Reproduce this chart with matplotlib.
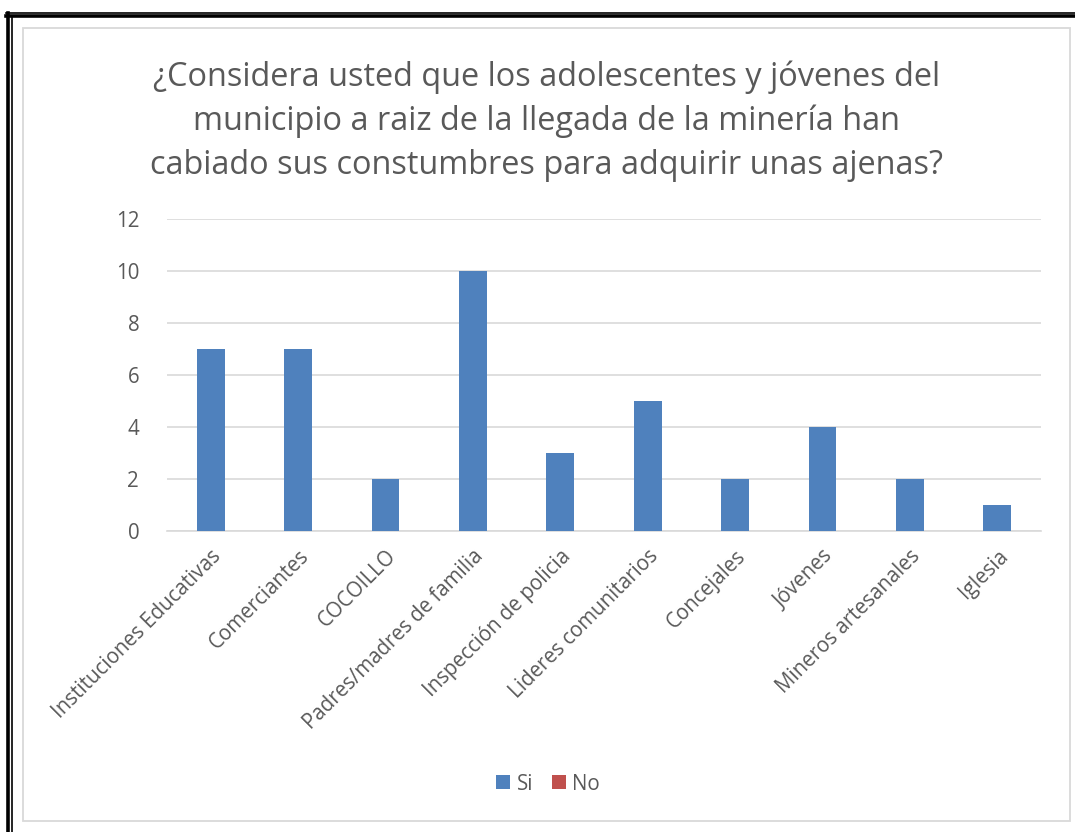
import matplotlib
matplotlib.use("Agg")
import matplotlib.pyplot as plt
from matplotlib.patches import Rectangle, Patch
from matplotlib.lines import Line2D

categories = ["Instituciones Educativas", "Comerciantes", "COCOILLO",
              "Padres/madres de familia", "Inspección de policia",
              "Lideres comunitarios", "Concejales", "Jóvenes",
              "Mineros artesanales", "Iglesia"]
si_values = [7, 7, 2, 10, 3, 5, 2, 4, 2, 1]
no_values = [0, 0, 0, 0, 0, 0, 0, 0, 0, 0]
yticks = [0, 2, 4, 6, 8, 10, 12]
title = ("¿Considera usted que los adolescentes y jóvenes del\n"
         "municipio a raiz de la llegada de la minería han\n"
         "cabiado sus constumbres para adquirir unas ajenas?")

W, H = 1075, 832
plt.rcParams['font.family'] = ['Open Sans', 'DejaVu Sans']
fig = plt.figure(figsize=(W / 100, H / 100), dpi=100)
fig.patch.set_facecolor("white")

def fx(x):
    return x / W

def fy(y):
    return 1 - y / H

# outer double border
fig.add_artist(Line2D([fx(6), 1], [fy(12.5), fy(12.5)], color="black", lw=1.2, transform=fig.transFigure))
fig.add_artist(Line2D([fx(6), 1], [fy(15.8), fy(15.8)], color="black", lw=2.6, transform=fig.transFigure))
fig.add_artist(Line2D([fx(7.7), fx(7.7)], [0, fy(12.5)], color="black", lw=2.6, transform=fig.transFigure))
fig.add_artist(Line2D([fx(11.7), fx(11.7)], [0, fy(15.8)], color="black", lw=1.2, transform=fig.transFigure))

# chart area frame
fig.add_artist(Rectangle((fx(23), fy(821)), fx(1070) - fx(23), fy(28) - fy(821),
                         fill=False, edgecolor="#d9d9d9", lw=1.3, transform=fig.transFigure))

ax = fig.add_axes([fx(167), fy(530.7), fx(1041) - fx(167), fy(218.7) - fy(530.7)])
x = list(range(len(categories)))
ax.bar(x, si_values, width=0.316, color="#4F81BD", zorder=3, label="Si")
ax.set_xlim(-0.5, len(categories) - 0.5)
ax.set_ylim(0, 12)
ax.set_yticks(yticks)
ax.set_yticklabels([str(v) for v in yticks], fontsize=14.8, color="#595959")
ax.set_xticks(x)
ax.set_xticklabels(categories, rotation=45, ha="right", va="top",
                   rotation_mode="anchor", fontsize=14.8, color="#595959")
ax.tick_params(axis="both", length=0)
ax.tick_params(axis="y", pad=20)
ax.tick_params(axis="x", pad=11)
ax.grid(axis="y", color="#d9d9d9", lw=1.2, zorder=0)
for s in ["top", "right", "left"]:
    ax.spines[s].set_visible(False)
ax.spines["bottom"].set_color("#d9d9d9")
ax.spines["bottom"].set_linewidth(1.2)
ax.set_facecolor("none")

fig.text(fx(546.5), fy(121), title, ha="center", va="center", fontsize=23.4,
         color="#595959", linespacing=1.42)

handles = [Patch(facecolor="#4F81BD", label="Si"), Patch(facecolor="#C0504D", label="No")]
fig.legend(handles=handles, loc="center", bbox_to_anchor=(fx(548), fy(784)), ncol=2,
           frameon=False, fontsize=14.8, handlelength=0.68, handleheight=0.68,
           handletextpad=0.3, columnspacing=0.9, labelcolor="#595959")

fig.savefig("out.png", dpi=100, facecolor="white")
